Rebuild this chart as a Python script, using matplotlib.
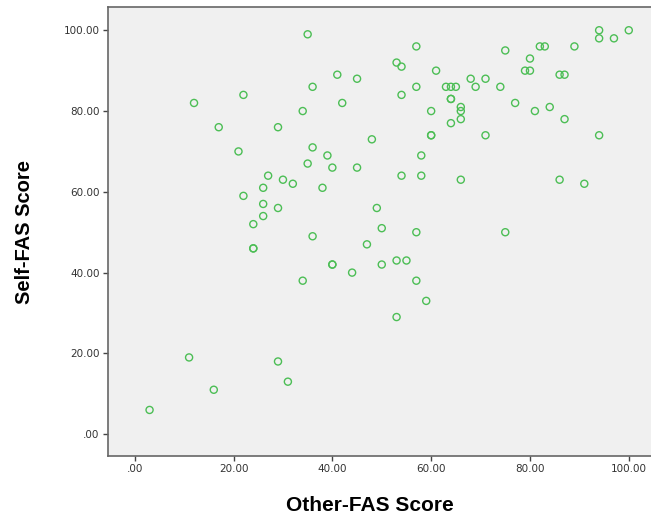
import matplotlib
matplotlib.use("Agg")
import matplotlib.pyplot as plt
from matplotlib.ticker import FuncFormatter

# Other-FAS score (x) and Self-FAS score (y)
other_fas = [35, 41, 45, 36, 22, 12, 42, 34, 17, 29, 48, 21, 36, 39, 35, 40, 45, 27, 30, 32,
             26, 38, 22, 26, 29, 49, 26, 24, 50, 24, 24, 36, 47, 50, 40, 40, 44, 34, 11, 29,
             31, 16, 3,
             57, 75, 53, 55, 57, 59, 53,
             94, 100, 94, 97, 57, 82, 83, 89, 75, 80, 53, 54, 61, 79, 80, 86, 87, 68, 71, 57,
             63, 64, 65, 69, 74, 54, 64, 64, 77, 66, 66, 60, 81, 84, 66, 87, 64, 60, 60, 71,
             94, 58, 54, 58, 66, 86, 91]
self_fas = [99, 89, 88, 86, 84, 82, 82, 80, 76, 76, 73, 70, 71, 69, 67, 66, 66, 64, 63, 62,
            61, 61, 59, 57, 56, 56, 54, 52, 51, 46, 46, 49, 47, 42, 42, 42, 40, 38, 19, 18,
            13, 11, 6,
            50, 50, 43, 43, 38, 33, 29,
            100, 100, 98, 98, 96, 96, 96, 96, 95, 93, 92, 91, 90, 90, 90, 89, 89, 88, 88, 86,
            86, 86, 86, 86, 86, 84, 83, 83, 82, 81, 80, 80, 80, 81, 78, 78, 77, 74, 74, 74,
            74, 69, 64, 64, 63, 63, 62]

ticks = [0, 20, 40, 60, 80, 100]

def fmt(v, pos):
    s = "%.2f" % v
    return s[1:] if s.startswith("0") else s

fig = plt.figure(figsize=(6.51, 5.17), dpi=100)
ax = fig.add_axes([0.166, 0.118, 0.834, 0.868])
ax.set_facecolor("#f0f0f0")

ax.scatter(other_fas, self_fas, s=26, facecolors="none", edgecolors="#4cbe55", linewidths=1.0)

ax.set_xlim(-5.4, 104.5)
ax.set_ylim(-5.4, 105.7)
ax.set_xticks(ticks)
ax.set_yticks(ticks)
ax.xaxis.set_major_formatter(FuncFormatter(fmt))
ax.yaxis.set_major_formatter(FuncFormatter(fmt))
ax.tick_params(direction="out", length=3.5, width=1, pad=2.5, colors="#444444", labelsize=7.5,
               labelcolor="#333333")

for side in ["left", "bottom", "top"]:
    ax.spines[side].set_color("#666666")
    ax.spines[side].set_linewidth(1.2)
ax.spines["right"].set_visible(False)

ax.set_xlabel("Other-FAS Score", family="Liberation Sans", fontsize=15, fontweight="bold")
ax.set_ylabel("Self-FAS Score", family="Liberation Sans", fontsize=14.5, fontweight="bold")
ax.xaxis.set_label_coords(0.482, -0.089)
ax.yaxis.set_label_coords(-0.137, 0.5)

fig.savefig("out.png", dpi=100)
